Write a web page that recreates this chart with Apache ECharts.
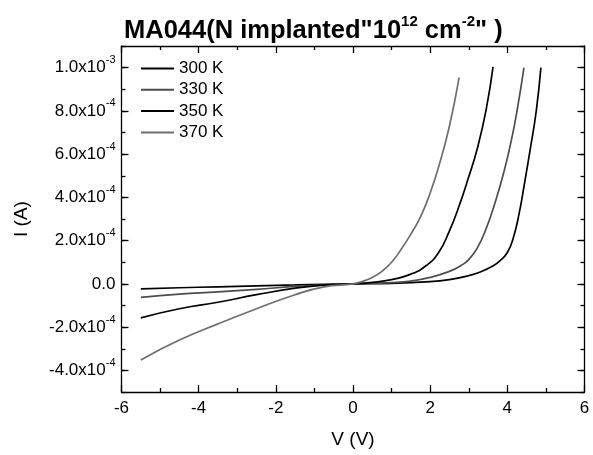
<!DOCTYPE html>
<html>
<head>
<meta charset="utf-8">
<script src="https://cdn.jsdelivr.net/npm/echarts@6/dist/echarts.min.js"></script>
<style>
html,body{margin:0;padding:0;background:#fff;}
#chart{width:593px;height:455px;}
</style>
</head>
<body>
<div id="chart"></div>
<script>
// ---- data (V in volts, I in amperes) ----
const seriesNames = ['300 K', '330 K', '350 K', '370 K'];
const v300 = [-5.5, -4.5, -3.5, -2.5, -1.5, -0.75, 0, 1, 2, 2.5, 3.0, 3.3, 3.6, 3.8, 4.0, 4.15, 4.3, 4.45, 4.6, 4.75, 4.87];
const i300 = [-2.3e-5, -1.8e-5, -1.35e-5, -9e-6, -5e-6, -2e-6, 0, 2e-6, 1e-5, 2e-5, 3.8e-5, 5.5e-5, 8e-5, 1.05e-4, 1.45e-4, 2.1e-4, 3.2e-4, 4.7e-4, 6.3e-4, 8.0e-4, 1.0e-3];
const v330 = [-5.5, -4.5, -3.5, -2.5, -1.5, -0.75, 0, 1, 1.5, 2.0, 2.5, 2.8, 3.0, 3.22, 3.45, 3.69, 3.9, 4.1, 4.27, 4.43];
const i330 = [-6.2e-5, -4.7e-5, -3.7e-5, -2.5e-5, -1.2e-5, -5e-6, 0, 6e-6, 1.3e-5, 3e-5, 5.8e-5, 8.5e-5, 1.12e-4, 1.65e-4, 2.55e-4, 3.8e-4, 5.1e-4, 6.6e-4, 8.2e-4, 1.0e-3];
const v350 = [-5.5, -4.5, -3.5, -2.5, -1.5, -0.75, 0, 0.5, 1.0, 1.5, 1.9, 2.22, 2.5, 2.72, 3.0, 3.22, 3.45, 3.63];
const i350 = [-1.57e-4, -1.15e-4, -8.5e-5, -5e-5, -2e-5, -6e-6, 0, 7e-6, 2e-5, 4.5e-5, 8.5e-5, 1.45e-4, 2.45e-4, 3.45e-4, 4.95e-4, 6.25e-4, 8.05e-4, 1.003e-3];
const v370 = [-5.5, -4.5, -3.5, -2.5, -1.5, -0.75, 0, 0.25, 0.5, 0.75, 1.0, 1.25, 1.5, 1.75, 2.0, 2.25, 2.5, 2.75];
const i370 = [-3.52e-4, -2.6e-4, -1.85e-4, -1.15e-4, -5e-5, -1.4e-5, 0, 1.2e-5, 3e-5, 5.8e-5, 1.0e-4, 1.6e-4, 2.3e-4, 3.1e-4, 4.2e-4, 5.6e-4, 7.3e-4, 9.54e-4];
const yMajorTicks = [-4e-4, -2e-4, 0, 2e-4, 4e-4, 6e-4, 8e-4, 1e-3];

const FONT = "'Liberation Sans', Arial, sans-serif";
const colors = ['#000000', '#4d4d4d', '#000000', '#6e6e6e'];

function pairs(v, i) { return v.map((x, k) => [x, i[k]]); }

function sciLabel(val) {
  if (Math.abs(val) < 1e-12) return '{b|0.0}';
  const e = Math.floor(Math.log10(Math.abs(val)) + 1e-9);
  const m = val / Math.pow(10, e);
  return '{b|' + m.toFixed(1) + 'x10}{s|' + e + '}';
}

const chart = echarts.init(document.getElementById('chart'), null, {renderer: 'canvas'});
const axisLine = {show: true, onZero: false, lineStyle: {color: '#000', width: 1.3}};
const noLine = {show: false, onZero: false};
const tickStyle = {color: '#000', width: 1.3};
const yMin = -5e-4, yMax = 1.1e-3;

const option = {
  animation: false,
  backgroundColor: '#fff',
  textStyle: {fontFamily: FONT},
  title: {
    text: '{t|MA044(N implanted"10}{s|12}{t| cm}{s|-2}{t|" )}',
    left: 119, top: 9,
    textStyle: {
      rich: {
        t: {fontFamily: FONT, fontSize: 25.5, fontWeight: 'bold', color: '#000', lineHeight: 34},
        s: {fontFamily: FONT, fontSize: 15, fontWeight: 'bold', color: '#000', lineHeight: 16, verticalAlign: 'top'}
      }
    }
  },
  grid: {left: 121.5, right: 8.5, top: 46, bottom: 63},
  legend: {
    orient: 'vertical', left: 136, top: 55,
    itemWidth: 33, itemHeight: 2, itemGap: 4.3,
    icon: 'rect',
    textStyle: {fontFamily: FONT, fontSize: 17, color: '#000', lineHeight: 17},
    data: seriesNames
  },
  xAxis: [
    {
      type: 'value', min: -6, max: 6, interval: 2, position: 'bottom',
      name: 'V (V)', nameLocation: 'middle', nameGap: 38,
      nameTextStyle: {fontFamily: FONT, fontSize: 19, color: '#000'},
      axisLine: axisLine,
      axisTick: {show: true, inside: true, length: 7, lineStyle: tickStyle},
      minorTick: {show: true, splitNumber: 2, length: 4, lineStyle: tickStyle},
      axisLabel: {fontFamily: FONT, fontSize: 17, color: '#000', margin: 8},
      splitLine: {show: false}
    },
    {
      type: 'value', min: -6, max: 6, interval: 2, position: 'top',
      axisLine: axisLine,
      axisTick: {show: true, inside: true, length: 7, lineStyle: tickStyle},
      minorTick: {show: true, splitNumber: 2, length: 4, lineStyle: tickStyle},
      axisLabel: {show: false},
      splitLine: {show: false}
    }
  ],
  yAxis: [
    {
      type: 'value', min: yMin, max: yMax, interval: 1e-4, position: 'left',
      name: 'I (A)', nameLocation: 'middle', nameGap: 90,
      nameTextStyle: {fontFamily: FONT, fontSize: 19, color: '#000'},
      axisLine: axisLine,
      axisTick: {show: true, inside: true, length: 4, lineStyle: tickStyle},
      axisLabel: {show: false},
      splitLine: {show: false}
    },
    {
      type: 'value', min: yMin, max: yMax, interval: 1e-4, position: 'left',
      axisLine: noLine,
      axisTick: {show: true, inside: true, length: 7, customValues: yMajorTicks, lineStyle: tickStyle},
      axisLabel: {
        show: true, margin: 6, customValues: yMajorTicks,
        formatter: sciLabel,
        rich: {
          b: {fontFamily: FONT, fontSize: 17, color: '#000', lineHeight: 26},
          s: {fontFamily: FONT, fontSize: 11, color: '#000', lineHeight: 12, verticalAlign: 'top'}
        }
      },
      splitLine: {show: false}
    },
    {
      type: 'value', min: yMin, max: yMax, interval: 1e-4, position: 'right',
      axisLine: axisLine,
      axisTick: {show: true, inside: true, length: 4, lineStyle: tickStyle},
      axisLabel: {show: false},
      splitLine: {show: false}
    },
    {
      type: 'value', min: yMin, max: yMax, interval: 1e-4, position: 'right',
      axisLine: noLine,
      axisTick: {show: true, inside: true, length: 7, customValues: yMajorTicks, lineStyle: tickStyle},
      axisLabel: {show: false},
      splitLine: {show: false}
    }
  ],
  series: [
    {name: seriesNames[0], data: pairs(v300, i300)},
    {name: seriesNames[1], data: pairs(v330, i330)},
    {name: seriesNames[2], data: pairs(v350, i350)},
    {name: seriesNames[3], data: pairs(v370, i370)}
  ].map((s, k) => Object.assign({
    type: 'line', xAxisIndex: 0, yAxisIndex: 0,
    symbol: 'none', smooth: 0.5,
    color: colors[k],
    lineStyle: {color: colors[k], width: 1.7}
  }, s))
};
chart.setOption(option);
</script>
</body>
</html>
